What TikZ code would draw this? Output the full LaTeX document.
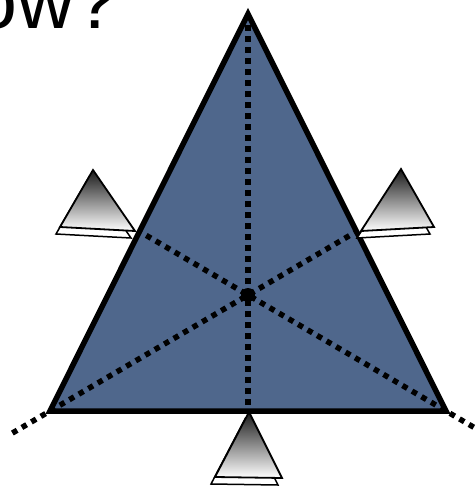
\documentclass[tikz,border=0pt]{standalone}
\usepackage{fontspec}
\setmainfont{Liberation Sans}
\usetikzlibrary{calc}
\definecolor{ardesia}{RGB}{79,103,140}

\begin{document}
\begin{tikzpicture}[
    x=1pt, y=-1pt,
    lato/.style={draw=black, line width=5.5pt, line join=miter},
    bisettrice/.style={line width=5.5pt, dash pattern=on 5.5pt off 5.5pt},
    centro/.style={circle, fill=black, inner sep=0pt, minimum size=14pt},
    prisma/.style={draw=black, line width=1.8pt, top color=black!90, bottom color=white},
    ombra/.style={draw=black, line width=1.5pt, fill=white},
    titolo/.style={font=\fontsize{79}{79}\selectfont, inner sep=0pt, anchor=base west}
]

    % 0. Cornice della figura
    \clip (0,0) rectangle (476,488);

    % 1. Titolo (tagliato in alto)
    \node[titolo] (T) at (-27,28.5) {ow?};

    % 2. Vertici e punti notevoli
    \coordinate (A) at (248,14);
    \coordinate (B) at (50,411);
    \coordinate (C) at (446,411);
    \coordinate (O) at (248,295);
    \coordinate (M) at (248,411);
    \coordinate (P) at (intersection of B--O and A--C);
    \coordinate (Q) at (intersection of C--O and A--B);
    \coordinate (Bx) at ($(O)!1.19!(B)$);
    \coordinate (Cx) at ($(O)!1.14!(C)$);

    % 3. Triangolo pieno
    \fill[ardesia] (A) -- (B) -- (C) -- cycle;

    % 4. Rette tratteggiate
    \draw[bisettrice] (A) -- (M);
    \draw[bisettrice] (Bx) -- (P);
    \draw[bisettrice] (Cx) -- (Q);
    \node[centro] (N0) at (O) {};

    % 5. Contorno
    \draw[lato] (A) -- (B) -- (C) -- cycle;

    % 6. Prismi (sinistra, destra, sotto)
    \draw[ombra, shift={(-4,7)}] (93,170) -- (60,227) -- (135,231) -- cycle;
    \shade[prisma] (93,170) -- (60,227) -- (135,231) -- cycle;

    \draw[ombra, shift={(-4,7)}] (401,169) -- (361,231) -- (434,227) -- cycle;
    \shade[prisma] (401,169) -- (361,231) -- (434,227) -- cycle;

    \draw[ombra, shift={(-4,7)}] (249,412) -- (215,477) -- (282,478) -- cycle;
    \shade[prisma] (249,412) -- (215,477) -- (282,478) -- cycle;

\end{tikzpicture}
\end{document}
